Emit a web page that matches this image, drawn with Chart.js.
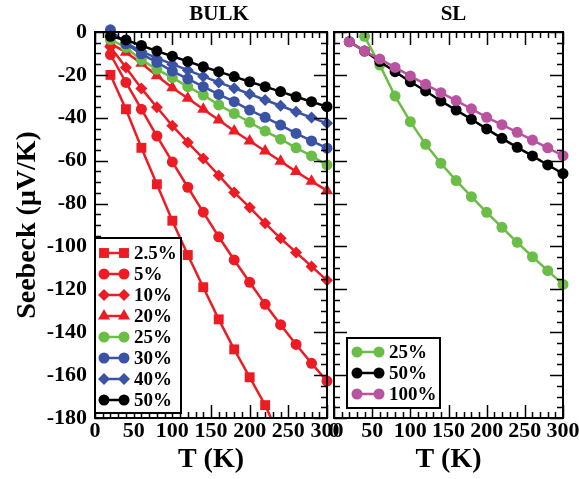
<!DOCTYPE html>
<html>
<head>
<meta charset="utf-8">
<script src="https://cdn.jsdelivr.net/npm/chart.js@4.4.1/dist/chart.umd.min.js"></script>
<style>
  body { margin: 0; background: #fff; }
  #wrap { position: relative; width: 579px; height: 479px; }
  #wrap canvas { position: absolute; left: 0; top: 0; }
</style>
</head>
<body>
<div id="wrap">
  <canvas id="bulkChart" width="579" height="479"></canvas>
  <canvas id="slChart" width="579" height="479"></canvas>
</div>
<script>
// temperatures (K)
const temps = [20, 40, 60, 80, 100, 120, 140, 160, 180, 200, 220, 240, 260, 280, 300];

// BULK panel
const bulkLabels = ["2.5%", "5%", "10%", "20%", "25%", "30%", "40%", "50%"];
const bulk2p5 = [-20, -36, -54, -71, -88, -104, -119, -134, -148, -161, -174, -190];
const bulk5 = [-10.5, -23.5, -36, -48.5, -60.6, -72.4, -84, -95.5, -106.3, -116.7, -127, -136.5, -145.7, -154.5, -162.8];
const bulk10 = [-7, -16.5, -26.3, -35.1, -43.7, -51.5, -59, -66.9, -74.8, -81.8, -89.2, -96.2, -102.8, -109.3, -115.8];
const bulk20 = [-5.3, -9.5, -14.6, -20.4, -26, -30.9, -36, -41, -46.2, -50.8, -55.5, -60.3, -65.1, -69.6, -74];
const bulk25 = [-3.5, -7.2, -13, -17.4, -21.3, -25.5, -29.4, -34, -38, -42.1, -46.2, -50, -54, -57.8, -62];
const bulk30 = [1, -5.5, -10.2, -14.2, -18.2, -21.9, -25.5, -29.1, -32.5, -36.4, -39.8, -43.4, -47.3, -50.8, -54.2];
const bulk40 = [0, -5, -9, -12.2, -15, -17.8, -20.7, -23.5, -26.2, -28.9, -31.7, -34.4, -37.2, -39.9, -42.6];
const bulk50 = [-2, -3.7, -6.3, -8.9, -11.3, -13.7, -16.2, -18.5, -20.8, -23.2, -25.5, -27.8, -30.2, -32.5, -34.8];

// SL panel
const slLabels = ["25%", "50%", "100%"];
const sl25 = [null, -2, -15.4, -29.9, -41.8, -52.4, -61.2, -69.3, -76.8, -84.1, -91.1, -98.1, -104.8, -111.3, -117.7];
const sl50 = [-4.5, -8.9, -13.8, -18.5, -23.2, -27.5, -32.2, -36.4, -40.7, -45.2, -49.6, -53.8, -57.8, -62, -66];
const sl100 = [-4.5, -8.9, -12.6, -16.5, -20.5, -24.4, -28.3, -32, -35.8, -39.8, -43.2, -46.8, -50.4, -54, -57.7];

// axis ticks
const xTicks = [0, 50, 100, 150, 200, 250, 300];
const yTicks = [0, -20, -40, -60, -80, -100, -120, -140, -160, -180];

const RED = "#ed1c24", GREEN = "#6abd45", BLUE = "#3a53a4", BLACK = "#000000", MAGENTA = "#b9529f";
const SERIF = '"Liberation Serif", "Times New Roman", serif';

function series(label, values, color, style, radius, i) {
    return {
        label: label,
        data: values.map((v, k) => ({ x: temps[k], y: v })),
        borderColor: color,
        backgroundColor: color,
        borderWidth: 2.5,
        pointStyle: style,
        pointRadius: radius,
        pointBorderWidth: 0,
        order: -i,
        clip: { left: 10, top: 10, right: 10, bottom: 0 }
    };
}

// little marker for the legend rows
function marker(ctx, style, x, y, r) {
    ctx.beginPath();
    if (style === "rect") {
        const s = r * Math.SQRT1_2;
        ctx.rect(x - s, y - s, 2 * s, 2 * s);
    } else if (style === "rectRot") {
        ctx.moveTo(x, y - r); ctx.lineTo(x + r, y); ctx.lineTo(x, y + r); ctx.lineTo(x - r, y);
        ctx.closePath();
    } else if (style === "triangle") {
        for (let k = 0; k < 3; k++) {
            const a = k * 2 * Math.PI / 3;
            if (k === 0) ctx.moveTo(x + Math.sin(a) * r, y - Math.cos(a) * r);
            else ctx.lineTo(x + Math.sin(a) * r, y - Math.cos(a) * r);
        }
        ctx.closePath();
    } else {
        ctx.arc(x, y, r, 0, 2 * Math.PI);
    }
    ctx.fill();
}

// frame, inward ticks, panel title and boxed legend
const panelPlugin = {
    id: "panel",
    afterDatasetsDraw(chart, args, opts) {
        const { ctx, chartArea: a, scales: { x, y } } = chart;
        ctx.save();
        ctx.strokeStyle = "#000";
        ctx.lineWidth = 1.5;
        ctx.beginPath();
        for (let t = 0; t <= 300; t += 10) {
            const px = Math.round(x.getPixelForValue(t)) + 0.5;
            const len = t % 50 === 0 ? 13 : 6;
            ctx.moveTo(px, a.bottom); ctx.lineTo(px, a.bottom - len);
            ctx.moveTo(px, a.top); ctx.lineTo(px, a.top + len);
        }
        for (let v = 0; v >= -180; v -= 5) {
            const py = Math.round(y.getPixelForValue(v)) + 0.5;
            const len = v % 20 === 0 ? 13 : 6;
            ctx.moveTo(a.left, py); ctx.lineTo(a.left + len, py);
            ctx.moveTo(a.right, py); ctx.lineTo(a.right - len, py);
        }
        ctx.stroke();
        ctx.lineWidth = 2;
        ctx.strokeRect(a.left, a.top, a.right - a.left, a.bottom - a.top);

        // title
        ctx.fillStyle = "#000";
        ctx.font = "bold 21px " + SERIF;
        ctx.textAlign = "center";
        ctx.textBaseline = "middle";
        ctx.fillText(opts.title, (a.left + a.right) / 2 + opts.titleDx, 15);

        // legend
        const L = opts.legend;
        ctx.fillStyle = "#fff";
        ctx.fillRect(L.x, L.y, L.w, L.h);
        ctx.lineWidth = 2;
        ctx.strokeRect(L.x, L.y, L.w, L.h);
        ctx.font = "bold 19px " + SERIF;
        ctx.textAlign = "left";
        chart.data.datasets.forEach((ds, i) => {
            const ry = L.row0 + i * L.rowH;
            ctx.strokeStyle = ds.borderColor;
            ctx.fillStyle = ds.backgroundColor;
            ctx.lineWidth = 2.5;
            ctx.beginPath();
            ctx.moveTo(L.x1, ry); ctx.lineTo(L.x2, ry);
            ctx.stroke();
            marker(ctx, ds.pointStyle, L.x1, ry, ds.pointRadius);
            marker(ctx, ds.pointStyle, L.x2, ry, ds.pointRadius);
            ctx.fillStyle = "#000";
            ctx.fillText(ds.label, L.tx, ry + 1);
        });
        ctx.restore();
    }
};

function xScale() {
    return {
        type: "linear", min: 0, max: 300,
        grid: { display: false, drawTicks: false },
        border: { display: false },
        ticks: { font: { family: SERIF, size: 22, weight: "bold" }, color: "#000", padding: 0, autoSkip: false, maxRotation: 0 },
        afterBuildTicks: s => { s.ticks = xTicks.map(v => ({ value: v })); },
        afterFit: s => { s.height = 61; s.paddingLeft = 0; s.paddingRight = 0; },
        title: { display: true, text: "T (K)", color: "#000", font: { family: SERIF, size: 28, weight: "bold" }, padding: { top: 0, bottom: 2 } }
    };
}

function yScale(show) {
    return {
        type: "linear", min: -180, max: 0,
        display: show,
        grid: { display: false, drawTicks: false },
        border: { display: false },
        ticks: { font: { family: SERIF, size: 22, weight: "bold" }, color: "#000", padding: 8, autoSkip: false },
        afterBuildTicks: s => { s.ticks = yTicks.map(v => ({ value: v })); },
        afterFit: s => {
            s.width = show ? 95 : 0;
            s.paddingTop = 0;
            s.paddingBottom = 0;
        },
        title: { display: true, text: "Seebeck (μV/K)", color: "#000", font: { family: SERIF, size: 28, weight: "bold" }, padding: { top: 11, bottom: 0 } }
    };
}

new Chart(document.getElementById("bulkChart"), {
    type: "line",
    data: {
        datasets: [
            series(bulkLabels[0], bulk2p5, RED, "rect", 7, 0),
            series(bulkLabels[1], bulk5, RED, "circle", 5.5, 1),
            series(bulkLabels[2], bulk10, RED, "rectRot", 6, 2),
            series(bulkLabels[3], bulk20, RED, "triangle", 7, 3),
            series(bulkLabels[4], bulk25, GREEN, "circle", 5.5, 4),
            series(bulkLabels[5], bulk30, BLUE, "circle", 5.5, 5),
            series(bulkLabels[6], bulk40, BLUE, "rectRot", 6, 6),
            series(bulkLabels[7], bulk50, BLACK, "circle", 5.5, 7)
        ]
    },
    options: {
        responsive: false,
        animation: false,
        layout: { padding: { left: 0, right: 252, top: 32, bottom: 0 } },
        plugins: {
            legend: { display: false },
            tooltip: { enabled: false },
            panel: {
                title: "BULK", titleDx: 8,
                legend: { x: 95, y: 238, w: 86, h: 175, row0: 253, rowH: 21, x1: 104, x2: 124, tx: 134 }
            }
        },
        scales: { x: xScale(), y: yScale(true) }
    },
    plugins: [panelPlugin]
});

new Chart(document.getElementById("slChart"), {
    type: "line",
    data: {
        datasets: [
            series(slLabels[0], sl25, GREEN, "circle", 5.5, 0),
            series(slLabels[1], sl50, BLACK, "circle", 5.5, 1),
            series(slLabels[2], sl100, MAGENTA, "circle", 5.5, 2)
        ]
    },
    options: {
        responsive: false,
        animation: false,
        layout: { padding: { left: 334, right: 16, top: 32, bottom: 0 } },
        plugins: {
            legend: { display: false },
            tooltip: { enabled: false },
            panel: {
                title: "SL", titleDx: 5,
                legend: { x: 347, y: 338, w: 93, h: 70, row0: 352, rowH: 21, x1: 357, x2: 379, tx: 389 }
            }
        },
        scales: { x: xScale(), y: yScale(false) }
    },
    plugins: [panelPlugin]
});
</script>
</body>
</html>
